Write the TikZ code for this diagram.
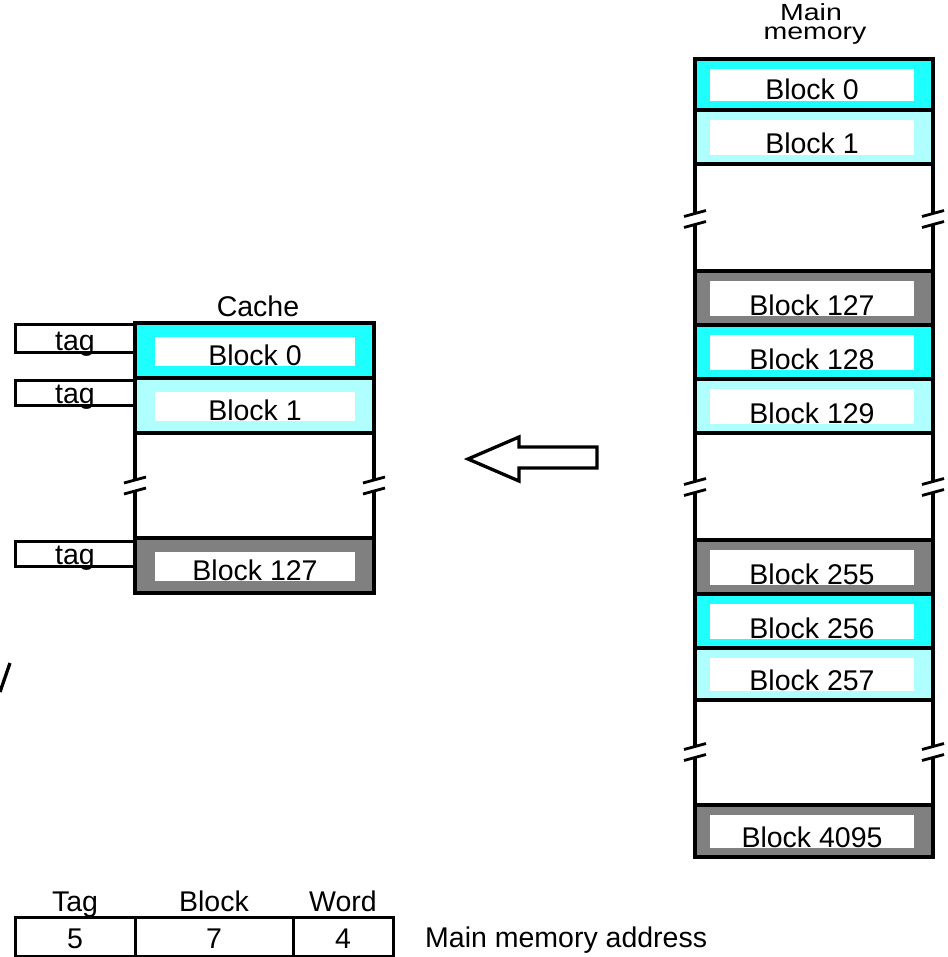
\documentclass[tikz,border=0pt]{standalone}
\usepackage{fontspec}
\setmainfont{Liberation Sans}
\usepackage{graphicx}
\definecolor{cyanA}{RGB}{30,255,255}
\definecolor{cyanB}{RGB}{175,255,255}
\definecolor{grayA}{RGB}{128,128,128}
\tikzset{
  lbl/.style={font=\fontsize{28.5}{30}\selectfont, inner sep=0pt, anchor=base},
  edgeline/.style={draw=black, line width=3.3pt},
  slashline/.style={draw=black, line width=2.8pt},
}
% main memory row: name, top, bottom, colour, label
\newcommand\mrow[5]{%
  \filldraw[fill=#4, edgeline] (695,#2) rectangle (933,#3);
  \fill[white] (710,{#2+10}) rectangle (914,{#3-9});
  \node[lbl] (#1) at (812,{#3-10}) {#5};
}
% cache row: name, top, bottom, colour, label
\newcommand\crow[5]{%
  \filldraw[fill=#4, edgeline] (135,#2) rectangle (374,#3);
  \fill[white] (155,{#2+14}) rectangle (355,{#3-12});
  \node[lbl] (#1) at (255,{#3-13}) {#5};
}
% gap side: x, top, bottom, centre
\newcommand\gapside[4]{%
  \draw[edgeline] (#1,#2) -- (#1,{#4-5.5}) (#1,{#4+5.5}) -- (#1,#3);
  \draw[slashline] ({#1-11},{#4-2.5}) -- ({#1+11},{#4-8.5})
                   ({#1-11},{#4+8.5}) -- ({#1+11},{#4+2.5});
}
% tag box: name, top, bottom
\newcommand\tagbox[3]{%
  \draw[draw=black, line width=3pt] (15,#2) rectangle (135,#3);
  \node[lbl] (#1) at (75,{#3-2}) {tag};
}
\begin{document}
\begin{tikzpicture}[x=1pt,y=-1pt]
\useasboundingbox (0,0) rectangle (947,957);

% ---------------- Main memory ----------------
\node[lbl] (mmA) at (811,21) {\scalebox{1}[0.82]{Main}};
\node[lbl] (mmB) at (815,40) {\scalebox{1}[0.82]{memory}};

\mrow{m0}{59}{110}{cyanA}{Block 0}
\mrow{m1}{110}{164}{cyanB}{Block 1}
\gapside{695}{164}{271}{219}
\gapside{933}{164}{271}{219}
\mrow{m127}{271}{325}{grayA}{Block 127}
\mrow{m128}{325}{379}{cyanA}{Block 128}
\mrow{m129}{379}{433}{cyanB}{Block 129}
\gapside{695}{433}{540}{487}
\gapside{933}{433}{540}{487}
\mrow{m255}{540}{594}{grayA}{Block 255}
\mrow{m256}{594}{648}{cyanA}{Block 256}
\mrow{m257}{648}{700}{cyanB}{Block 257}
\gapside{695}{700}{805}{752}
\gapside{933}{700}{805}{752}
\mrow{m4095}{805}{857}{grayA}{Block 4095}

% ---------------- Cache ----------------
\node[lbl] (cache) at (258,316) {Cache};
\crow{c0}{323}{378}{cyanA}{Block 0}
\crow{c1}{378}{433}{cyanB}{Block 1}
\gapside{135}{433}{538}{485.5}
\gapside{374}{433}{538}{485.5}
\crow{c127}{538}{593}{grayA}{Block 127}

\tagbox{t0}{324}{352}
\tagbox{t1}{380}{405}
\tagbox{t127}{541}{566}

% ---------------- Arrow ----------------
\draw[line width=3.3pt, line join=miter]
  (468,459) -- (519,437) -- (519,447) -- (597,447) -- (597,468)
  -- (519,468) -- (519,481) -- cycle;

% stray stroke at left edge
\draw[line width=3.3pt] (0,692) -- (10,663);

% ---------------- Address format ----------------
\draw[line width=3pt] (15,917) rectangle (393,956);
\draw[line width=3pt] (135,917) -- (135,956) (293,917) -- (293,956);
\node[lbl] (hTag) at (75,911) {Tag};
\node[lbl] (hBlock) at (214,911) {Block};
\node[lbl] (hWord) at (343,911) {Word};
\node[lbl] (vTag) at (75,948) {5};
\node[lbl] (vBlock) at (214,948) {7};
\node[lbl] (vWord) at (343,948) {4};
\node[lbl, anchor=base west] (addr) at (425,947) {Main memory address};
\end{tikzpicture}
\end{document}
